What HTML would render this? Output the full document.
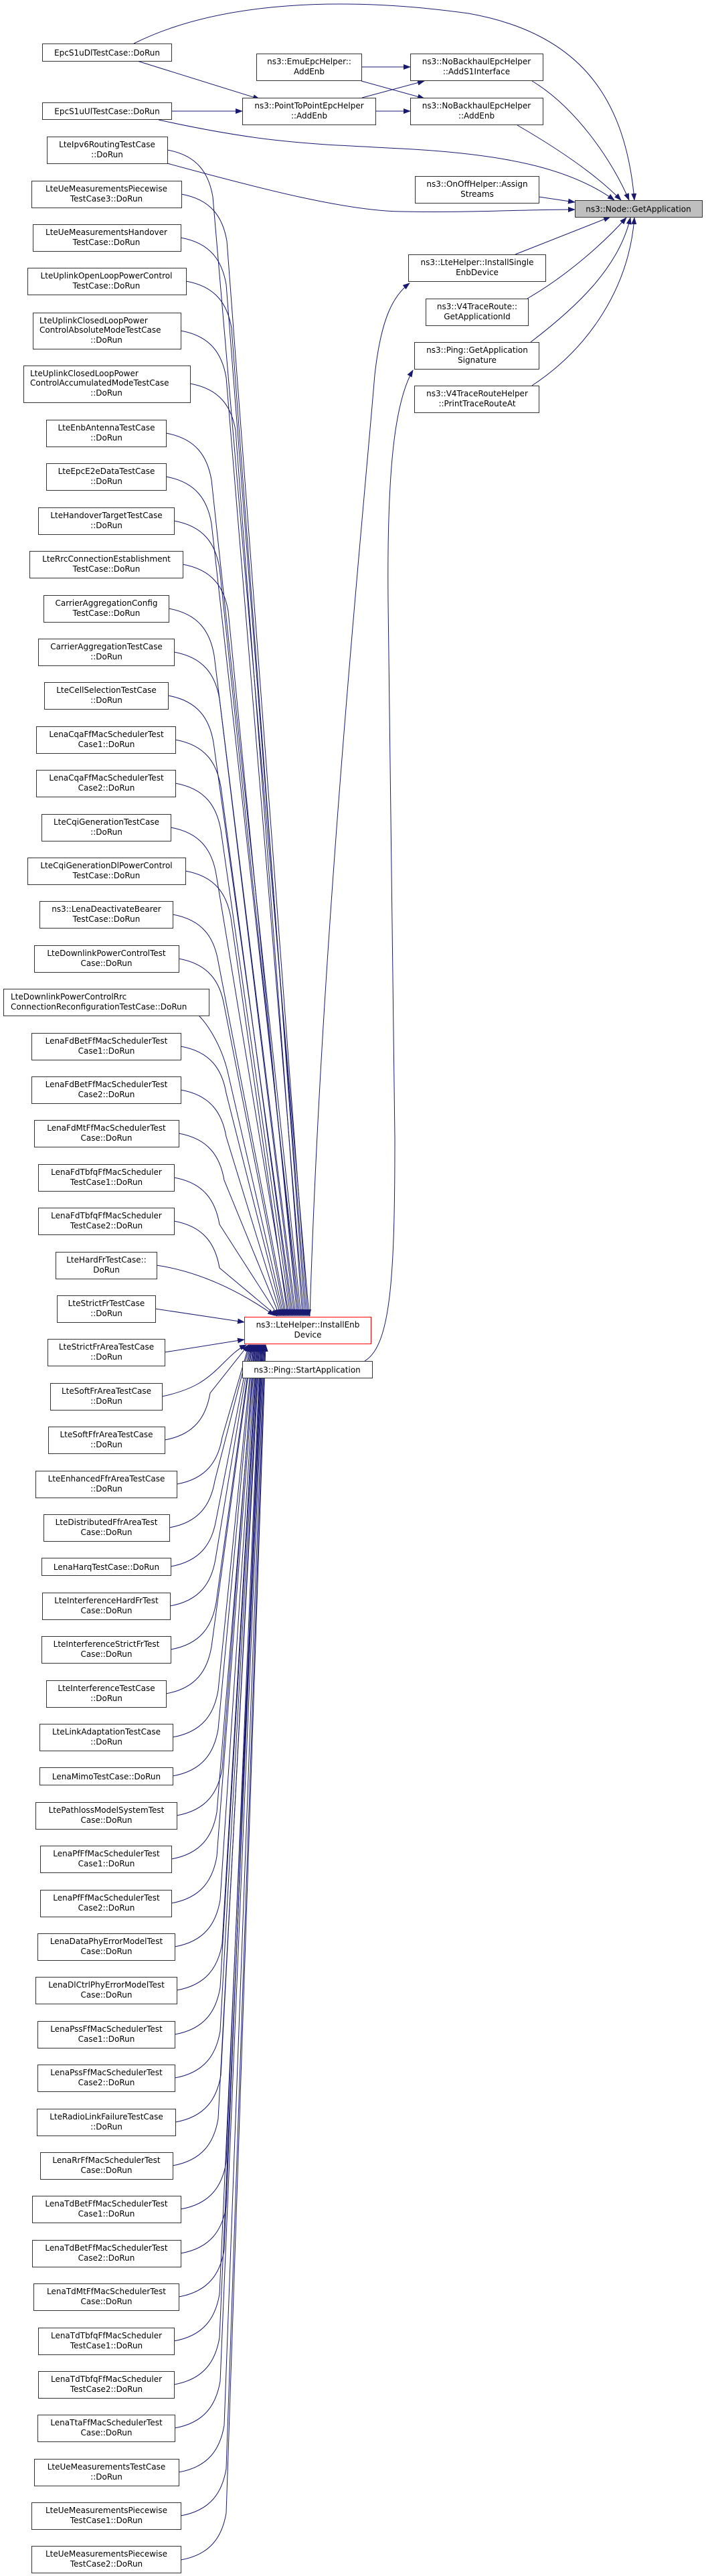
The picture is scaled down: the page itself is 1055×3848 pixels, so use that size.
<!DOCTYPE html>
<html><head><meta charset="utf-8"><style>
html,body{margin:0;padding:0;background:#fff;}
svg{display:block;}
text{font-family:"DejaVu Sans","Liberation Sans",sans-serif;font-size:12px;fill:#000;}
.n{fill:#fff;stroke:#333;stroke-width:1;}
.e{fill:none;stroke:#191970;stroke-width:1;}
</style></head><body>
<svg width="1055" height="3848" viewBox="0 0 1055 3848" xmlns="http://www.w3.org/2000/svg">
<defs><marker id="a" markerUnits="userSpaceOnUse" markerWidth="11" markerHeight="8" refX="10" refY="4" orient="auto"><path d="M0,0 L11,4 L0,8 z" fill="#191970"/></marker></defs>

<g class="e" marker-end="url(#a)">
<!-- top section -->
<path d="M200,65 C330,0 520,-5 700,20 C870,50 935,150 948,299"/>
<path d="M795,121 C860,160 915,240 940,299"/>
<path d="M773,187 C830,220 890,260 928,299"/>
<path d="M237,179 C400,215 470,215 600,222 C750,230 850,250 918,299"/>
<path d="M805,294 L859,302"/>
<path d="M250,244 C400,285 520,315 600,316 C700,318 780,313 859,313"/>
<path d="M770,380 L912,324"/>
<path d="M788,446 C850,410 905,360 936,325"/>
<path d="M793,511 C860,460 925,400 942,325"/>
<path d="M795,576 C880,520 940,430 948,325"/>
<path d="M205,91 L388,148"/>
<path d="M256,166 L362,166"/>
<path d="M540,100 L613,100"/>
<path d="M540,121 L634,147"/>
<path d="M541,146 L634,121"/>
<path d="M561,166 L613,166"/>
<path d="M463,1966 C480,1400 540,800 560,560 C570,470 590,440 612,423"/>
<path d="M545,2033 C585,2010 590,1900 590,1700 L580,900 C578,700 590,600 617,553"/>
<!-- upper group to InstallEnb -->
<path d="M250,224 C295,232 312,259 318,294 L462,1966"/>
<path d="M271,290 C316,298 333,325 339,360 L460,1966"/>
<path d="M270,355 C315,363 332,390 338,425 L458,1966"/>
<path d="M278,420 C323,428 340,455 346,490 L456,1966"/>
<path d="M270,494 C315,502 332,529 338,564 L454,1966"/>
<path d="M284,573 C329,581 346,608 352,643 L452,1966"/>
<path d="M248,647 C293,655 310,682 316,717 L450,1966"/>
<path d="M248,712 C293,720 310,747 316,782 L448,1966"/>
<path d="M260,778 C305,786 322,813 328,848 L446,1966"/>
<path d="M273,843 C318,851 335,878 341,913 L444,1966"/>
<path d="M252,909 C297,917 314,944 320,979 L442,1966"/>
<path d="M260,974 C305,982 322,1009 328,1044 L440,1966"/>
<path d="M251,1039 C296,1047 313,1074 319,1109 L438,1966"/>
<path d="M262,1105 C307,1113 324,1140 330,1175 L436,1966"/>
<path d="M262,1170 C307,1178 324,1205 330,1240 L434,1966"/>
<path d="M255,1236 C300,1244 317,1271 323,1306 L432,1966"/>
<path d="M277,1301 C322,1309 339,1336 345,1371 L430,1966"/>
<path d="M258,1366 C303,1374 320,1401 326,1436 L428,1966"/>
<path d="M267,1432 C312,1440 329,1467 335,1502 L426,1966"/>
<path d="M297,1517 C310,1530 330,1560 340,1600 L424,1966"/>
<path d="M270,1563 C315,1571 332,1598 338,1633 L422,1966"/>
<path d="M270,1628 C315,1636 332,1663 338,1698 L420,1966"/>
<path d="M267,1693 C312,1701 329,1728 335,1763 L418,1966"/>
<path d="M260,1759 C305,1767 322,1794 328,1829 L416,1966"/>
<path d="M260,1824 C305,1832 322,1859 328,1894 L414,1966"/>
<path d="M234,1890 C300,1900 360,1930 410,1965"/>
<path d="M232,1955 L365,1975"/>
<path d="M246,2020 L365,2001"/>
<path d="M242,2086 C290,2076 310,2060 330,2040 C345,2025 355,2015 368,2009"/>
<!-- lower group -->
<path d="M246,2151 C291,2143 308,2116 314,2081 L371,2009"/>
<path d="M264,2217 C309,2209 326,2182 332,2147 L372,2009"/>
<path d="M253,2282 C298,2274 315,2247 321,2212 L373,2009"/>
<path d="M255,2340 C300,2332 317,2305 323,2270 L374,2009"/>
<path d="M254,2399 C299,2391 316,2364 322,2329 L375,2009"/>
<path d="M255,2464 C300,2456 317,2429 323,2394 L376,2009"/>
<path d="M248,2530 C293,2522 310,2495 316,2460 L377,2009"/>
<path d="M258,2595 C303,2587 320,2560 326,2525 L378,2009"/>
<path d="M258,2653 C303,2645 320,2618 326,2583 L379,2009"/>
<path d="M264,2712 C309,2704 326,2677 332,2642 L380,2009"/>
<path d="M256,2777 C301,2769 318,2742 324,2707 L381,2009"/>
<path d="M256,2843 C301,2835 318,2808 324,2773 L382,2009"/>
<path d="M261,2908 C306,2900 323,2873 329,2838 L383,2009"/>
<path d="M264,2973 C309,2965 326,2938 332,2903 L384,2009"/>
<path d="M261,3039 C306,3031 323,3004 329,2969 L385,2009"/>
<path d="M261,3104 C306,3096 323,3069 329,3034 L386,2009"/>
<path d="M262,3170 C307,3162 324,3135 330,3100 L387,2009"/>
<path d="M258,3235 C303,3227 320,3200 326,3165 L388,2009"/>
<path d="M270,3300 C315,3292 332,3265 338,3230 L389,2009"/>
<path d="M270,3366 C315,3358 332,3331 338,3296 L390,2009"/>
<path d="M267,3431 C312,3423 329,3396 335,3361 L391,2009"/>
<path d="M260,3497 C305,3489 322,3462 328,3427 L392,2009"/>
<path d="M260,3562 C305,3554 322,3527 328,3492 L393,2009"/>
<path d="M261,3627 C306,3619 323,3592 329,3557 L394,2009"/>
<path d="M267,3693 C312,3685 329,3658 335,3623 L395,2009"/>
<path d="M270,3758 C315,3750 332,3723 338,3688 L396,2009"/>
<path d="M270,3824 C315,3816 332,3789 338,3754 L397,2009"/>
</g>

<!-- top/right nodes -->
<rect class="n" x="63.5" y="65.5" width="193" height="26"/><text x="160" y="83" text-anchor="middle">EpcS1uDlTestCase::DoRun</text>
<rect class="n" x="63.5" y="153.5" width="193" height="25"/><text x="160" y="170.5" text-anchor="middle">EpcS1uUlTestCase::DoRun</text>
<rect class="n" x="383.5" y="80.5" width="157" height="40"/><text x="462" y="96" text-anchor="middle">ns3::EmuEpcHelper::</text><text x="462" y="111" text-anchor="middle">AddEnb</text>
<rect class="n" x="613.5" y="80.5" width="198" height="40"/><text x="712" y="96" text-anchor="middle">ns3::NoBackhaulEpcHelper</text><text x="712" y="111" text-anchor="middle">::AddS1Interface</text>
<rect class="n" x="362.5" y="146.5" width="199" height="40"/><text x="462" y="162" text-anchor="middle">ns3::PointToPointEpcHelper</text><text x="462" y="177" text-anchor="middle">::AddEnb</text>
<rect class="n" x="613.5" y="146.5" width="198" height="40"/><text x="712" y="162" text-anchor="middle">ns3::NoBackhaulEpcHelper</text><text x="712" y="177" text-anchor="middle">::AddEnb</text>
<rect class="n" x="620.5" y="263.5" width="185" height="40"/><text x="713" y="279" text-anchor="middle">ns3::OnOffHelper::Assign</text><text x="713" y="294" text-anchor="middle">Streams</text>
<rect x="859.5" y="299.5" width="190" height="25" fill="#bfbfbf" stroke="#333"/><text x="954" y="316.5" text-anchor="middle">ns3::Node::GetApplication</text>
<rect class="n" x="610.5" y="380.5" width="205" height="40"/><text x="713" y="396" text-anchor="middle">ns3::LteHelper::InstallSingle</text><text x="713" y="411" text-anchor="middle">EnbDevice</text>
<rect class="n" x="636.5" y="446.5" width="153" height="40"/><text x="713" y="462" text-anchor="middle">ns3::V4TraceRoute::</text><text x="713" y="477" text-anchor="middle">GetApplicationId</text>
<rect class="n" x="619.5" y="511.5" width="186" height="40"/><text x="713" y="527" text-anchor="middle">ns3::Ping::GetApplication</text><text x="713" y="542" text-anchor="middle">Signature</text>
<rect class="n" x="619.5" y="576.5" width="186" height="40"/><text x="713" y="592" text-anchor="middle">ns3::V4TraceRouteHelper</text><text x="713" y="607" text-anchor="middle">::PrintTraceRouteAt</text>
<rect x="365.5" y="1967.5" width="189" height="40" fill="#fff" stroke="#ff0000"/><text x="460" y="1983" text-anchor="middle">ns3::LteHelper::InstallEnb</text><text x="460" y="1998" text-anchor="middle">Device</text>
<rect class="n" x="362.5" y="2033.5" width="194" height="25"/><text x="459" y="2050.5" text-anchor="middle">ns3::Ping::StartApplication</text>

<!-- upper left group -->
<rect class="n" x="70.5" y="204.5" width="180" height="40"/><text x="160" y="220" text-anchor="middle">LteIpv6RoutingTestCase</text><text x="160" y="235" text-anchor="middle">::DoRun</text>
<rect class="n" x="47.5" y="270.5" width="224" height="40"/><text x="159" y="286" text-anchor="middle">LteUeMeasurementsPiecewise</text><text x="159" y="301" text-anchor="middle">TestCase3::DoRun</text>
<rect class="n" x="49.5" y="335.5" width="221" height="40"/><text x="159" y="351" text-anchor="middle">LteUeMeasurementsHandover</text><text x="159" y="366" text-anchor="middle">TestCase::DoRun</text>
<rect class="n" x="41.5" y="400.5" width="237" height="40"/><text x="159" y="416" text-anchor="middle">LteUplinkOpenLoopPowerControl</text><text x="159" y="431" text-anchor="middle">TestCase::DoRun</text>
<rect class="n" x="49.5" y="467.5" width="221" height="54"/><text x="59" y="483">LteUplinkClosedLoopPower</text><text x="59" y="497">ControlAbsoluteModeTestCase</text><text x="159" y="512" text-anchor="middle">::DoRun</text>
<rect class="n" x="35.5" y="546.5" width="249" height="55"/><text x="45" y="562">LteUplinkClosedLoopPower</text><text x="45" y="576">ControlAccumulatedModeTestCase</text><text x="159" y="591" text-anchor="middle">::DoRun</text>

<!-- main column -->
<rect class="n" x="69.5" y="627.5" width="179" height="40"/><text x="159" y="643" text-anchor="middle">LteEnbAntennaTestCase</text><text x="159" y="658" text-anchor="middle">::DoRun</text>
<rect class="n" x="69.5" y="692.5" width="179" height="40"/><text x="159" y="708" text-anchor="middle">LteEpcE2eDataTestCase</text><text x="159" y="723" text-anchor="middle">::DoRun</text>
<rect class="n" x="57.5" y="758.5" width="203" height="40"/><text x="159" y="774" text-anchor="middle">LteHandoverTargetTestCase</text><text x="159" y="789" text-anchor="middle">::DoRun</text>
<rect class="n" x="44.5" y="823.5" width="229" height="40"/><text x="159" y="839" text-anchor="middle">LteRrcConnectionEstablishment</text><text x="159" y="854" text-anchor="middle">TestCase::DoRun</text>
<rect class="n" x="65.5" y="889.5" width="187" height="40"/><text x="159" y="905" text-anchor="middle">CarrierAggregationConfig</text><text x="159" y="920" text-anchor="middle">TestCase::DoRun</text>
<rect class="n" x="57.5" y="954.5" width="203" height="40"/><text x="159" y="970" text-anchor="middle">CarrierAggregationTestCase</text><text x="159" y="985" text-anchor="middle">::DoRun</text>
<rect class="n" x="66.5" y="1019.5" width="185" height="40"/><text x="159" y="1035" text-anchor="middle">LteCellSelectionTestCase</text><text x="159" y="1050" text-anchor="middle">::DoRun</text>
<rect class="n" x="54.5" y="1085.5" width="208" height="40"/><text x="159" y="1101" text-anchor="middle">LenaCqaFfMacSchedulerTest</text><text x="159" y="1116" text-anchor="middle">Case1::DoRun</text>
<rect class="n" x="54.5" y="1150.5" width="208" height="40"/><text x="159" y="1166" text-anchor="middle">LenaCqaFfMacSchedulerTest</text><text x="159" y="1181" text-anchor="middle">Case2::DoRun</text>
<rect class="n" x="62.5" y="1216.5" width="193" height="40"/><text x="159" y="1232" text-anchor="middle">LteCqiGenerationTestCase</text><text x="159" y="1247" text-anchor="middle">::DoRun</text>
<rect class="n" x="41.5" y="1281.5" width="236" height="40"/><text x="159" y="1297" text-anchor="middle">LteCqiGenerationDlPowerControl</text><text x="159" y="1312" text-anchor="middle">TestCase::DoRun</text>
<rect class="n" x="59.5" y="1346.5" width="199" height="40"/><text x="159" y="1362" text-anchor="middle">ns3::LenaDeactivateBearer</text><text x="159" y="1377" text-anchor="middle">TestCase::DoRun</text>
<rect class="n" x="51.5" y="1412.5" width="216" height="40"/><text x="159" y="1428" text-anchor="middle">LteDownlinkPowerControlTest</text><text x="159" y="1443" text-anchor="middle">Case::DoRun</text>
<rect class="n" x="5.5" y="1477.5" width="307" height="40"/><text x="16" y="1493">LteDownlinkPowerControlRrc</text><text x="16" y="1508">ConnectionReconfigurationTestCase::DoRun</text>
<rect class="n" x="47.5" y="1543.5" width="223" height="40"/><text x="159" y="1559" text-anchor="middle">LenaFdBetFfMacSchedulerTest</text><text x="159" y="1574" text-anchor="middle">Case1::DoRun</text>
<rect class="n" x="47.5" y="1608.5" width="223" height="40"/><text x="159" y="1624" text-anchor="middle">LenaFdBetFfMacSchedulerTest</text><text x="159" y="1639" text-anchor="middle">Case2::DoRun</text>
<rect class="n" x="51.5" y="1673.5" width="216" height="40"/><text x="159" y="1689" text-anchor="middle">LenaFdMtFfMacSchedulerTest</text><text x="159" y="1704" text-anchor="middle">Case::DoRun</text>
<rect class="n" x="57.5" y="1739.5" width="203" height="40"/><text x="159" y="1755" text-anchor="middle">LenaFdTbfqFfMacScheduler</text><text x="159" y="1770" text-anchor="middle">TestCase1::DoRun</text>
<rect class="n" x="57.5" y="1804.5" width="203" height="40"/><text x="159" y="1820" text-anchor="middle">LenaFdTbfqFfMacScheduler</text><text x="159" y="1835" text-anchor="middle">TestCase2::DoRun</text>
<rect class="n" x="83.5" y="1870.5" width="151" height="40"/><text x="159" y="1886" text-anchor="middle">LteHardFrTestCase::</text><text x="159" y="1901" text-anchor="middle">DoRun</text>
<rect class="n" x="85.5" y="1935.5" width="147" height="40"/><text x="159" y="1951" text-anchor="middle">LteStrictFrTestCase</text><text x="159" y="1966" text-anchor="middle">::DoRun</text>
<rect class="n" x="71.5" y="2000.5" width="175" height="40"/><text x="159" y="2016" text-anchor="middle">LteStrictFrAreaTestCase</text><text x="159" y="2031" text-anchor="middle">::DoRun</text>
<rect class="n" x="75.5" y="2066.5" width="167" height="40"/><text x="159" y="2082" text-anchor="middle">LteSoftFrAreaTestCase</text><text x="159" y="2097" text-anchor="middle">::DoRun</text>
<rect class="n" x="72.5" y="2131.5" width="174" height="40"/><text x="159" y="2147" text-anchor="middle">LteSoftFfrAreaTestCase</text><text x="159" y="2162" text-anchor="middle">::DoRun</text>
<rect class="n" x="53.5" y="2197.5" width="211" height="40"/><text x="159" y="2213" text-anchor="middle">LteEnhancedFfrAreaTestCase</text><text x="159" y="2228" text-anchor="middle">::DoRun</text>
<rect class="n" x="65.5" y="2262.5" width="188" height="40"/><text x="159" y="2278" text-anchor="middle">LteDistributedFfrAreaTest</text><text x="159" y="2293" text-anchor="middle">Case::DoRun</text>
<rect class="n" x="62.5" y="2327.5" width="193" height="26"/><text x="159" y="2345" text-anchor="middle">LenaHarqTestCase::DoRun</text>
<rect class="n" x="63.5" y="2379.5" width="191" height="40"/><text x="159" y="2395" text-anchor="middle">LteInterferenceHardFrTest</text><text x="159" y="2410" text-anchor="middle">Case::DoRun</text>
<rect class="n" x="62.5" y="2444.5" width="193" height="40"/><text x="159" y="2460" text-anchor="middle">LteInterferenceStrictFrTest</text><text x="159" y="2475" text-anchor="middle">Case::DoRun</text>
<rect class="n" x="69.5" y="2510.5" width="179" height="40"/><text x="159" y="2526" text-anchor="middle">LteInterferenceTestCase</text><text x="159" y="2541" text-anchor="middle">::DoRun</text>
<rect class="n" x="59.5" y="2575.5" width="199" height="40"/><text x="159" y="2591" text-anchor="middle">LteLinkAdaptationTestCase</text><text x="159" y="2606" text-anchor="middle">::DoRun</text>
<rect class="n" x="59.5" y="2640.5" width="199" height="26"/><text x="159" y="2658" text-anchor="middle">LenaMimoTestCase::DoRun</text>
<rect class="n" x="53.5" y="2692.5" width="211" height="40"/><text x="159" y="2708" text-anchor="middle">LtePathlossModelSystemTest</text><text x="159" y="2723" text-anchor="middle">Case::DoRun</text>
<rect class="n" x="60.5" y="2757.5" width="196" height="40"/><text x="159" y="2773" text-anchor="middle">LenaPfFfMacSchedulerTest</text><text x="159" y="2788" text-anchor="middle">Case1::DoRun</text>
<rect class="n" x="60.5" y="2823.5" width="196" height="40"/><text x="159" y="2839" text-anchor="middle">LenaPfFfMacSchedulerTest</text><text x="159" y="2854" text-anchor="middle">Case2::DoRun</text>
<rect class="n" x="56.5" y="2888.5" width="205" height="40"/><text x="159" y="2904" text-anchor="middle">LenaDataPhyErrorModelTest</text><text x="159" y="2919" text-anchor="middle">Case::DoRun</text>
<rect class="n" x="53.5" y="2953.5" width="211" height="40"/><text x="159" y="2969" text-anchor="middle">LenaDlCtrlPhyErrorModelTest</text><text x="159" y="2984" text-anchor="middle">Case::DoRun</text>
<rect class="n" x="56.5" y="3019.5" width="205" height="40"/><text x="159" y="3035" text-anchor="middle">LenaPssFfMacSchedulerTest</text><text x="159" y="3050" text-anchor="middle">Case1::DoRun</text>
<rect class="n" x="56.5" y="3084.5" width="205" height="40"/><text x="159" y="3100" text-anchor="middle">LenaPssFfMacSchedulerTest</text><text x="159" y="3115" text-anchor="middle">Case2::DoRun</text>
<rect class="n" x="55.5" y="3150.5" width="207" height="40"/><text x="159" y="3166" text-anchor="middle">LteRadioLinkFailureTestCase</text><text x="159" y="3181" text-anchor="middle">::DoRun</text>
<rect class="n" x="60.5" y="3215.5" width="198" height="40"/><text x="159" y="3231" text-anchor="middle">LenaRrFfMacSchedulerTest</text><text x="159" y="3246" text-anchor="middle">Case::DoRun</text>
<rect class="n" x="48.5" y="3280.5" width="222" height="40"/><text x="159" y="3296" text-anchor="middle">LenaTdBetFfMacSchedulerTest</text><text x="159" y="3311" text-anchor="middle">Case1::DoRun</text>
<rect class="n" x="48.5" y="3346.5" width="222" height="40"/><text x="159" y="3362" text-anchor="middle">LenaTdBetFfMacSchedulerTest</text><text x="159" y="3377" text-anchor="middle">Case2::DoRun</text>
<rect class="n" x="50.5" y="3411.5" width="217" height="40"/><text x="159" y="3427" text-anchor="middle">LenaTdMtFfMacSchedulerTest</text><text x="159" y="3442" text-anchor="middle">Case::DoRun</text>
<rect class="n" x="57.5" y="3477.5" width="203" height="40"/><text x="159" y="3493" text-anchor="middle">LenaTdTbfqFfMacScheduler</text><text x="159" y="3508" text-anchor="middle">TestCase1::DoRun</text>
<rect class="n" x="57.5" y="3542.5" width="203" height="40"/><text x="159" y="3558" text-anchor="middle">LenaTdTbfqFfMacScheduler</text><text x="159" y="3573" text-anchor="middle">TestCase2::DoRun</text>
<rect class="n" x="56.5" y="3607.5" width="205" height="40"/><text x="159" y="3623" text-anchor="middle">LenaTtaFfMacSchedulerTest</text><text x="159" y="3638" text-anchor="middle">Case::DoRun</text>
<rect class="n" x="51.5" y="3673.5" width="216" height="40"/><text x="159" y="3689" text-anchor="middle">LteUeMeasurementsTestCase</text><text x="159" y="3704" text-anchor="middle">::DoRun</text>
<rect class="n" x="47.5" y="3738.5" width="223" height="40"/><text x="159" y="3754" text-anchor="middle">LteUeMeasurementsPiecewise</text><text x="159" y="3769" text-anchor="middle">TestCase1::DoRun</text>
<rect class="n" x="47.5" y="3803.5" width="223" height="40"/><text x="159" y="3819" text-anchor="middle">LteUeMeasurementsPiecewise</text><text x="159" y="3834" text-anchor="middle">TestCase2::DoRun</text>
</svg>
</body></html>
